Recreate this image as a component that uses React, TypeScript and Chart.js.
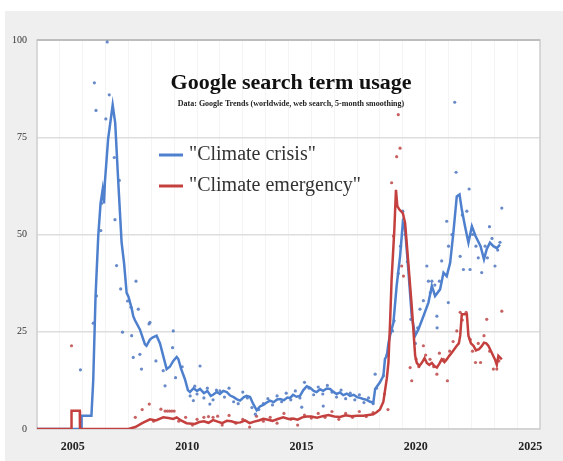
import React, { useEffect, useRef } from 'react';
import { Chart, registerables } from 'chart.js';

Chart.register(...registerables);

// ---- Data (decimal years, search interest 0-100) ----
const crisisLineYears = [2004.0, 2005.94, 2005.95, 2006.38, 2006.39, 2006.46, 2006.56, 2006.68, 2006.78, 2006.87, 2006.93, 2006.97, 2007.11, 2007.31, 2007.42, 2007.55, 2007.7, 2007.81, 2007.92, 2008.0, 2008.14, 2008.21, 2008.28, 2008.5, 2008.72, 2008.79, 2008.94, 2009.05, 2009.23, 2009.38, 2009.52, 2009.67, 2009.81, 2009.96, 2010.11, 2010.18, 2010.3, 2010.47, 2010.6, 2010.69, 2010.85, 2011.0, 2011.13, 2011.3, 2011.45, 2011.6, 2011.7, 2011.86, 2012.0, 2012.15, 2012.3, 2012.45, 2012.6, 2012.73, 2012.88, 2013.05, 2013.17, 2013.32, 2013.45, 2013.61, 2013.75, 2013.9, 2014.05, 2014.19, 2014.35, 2014.5, 2014.63, 2014.8, 2014.95, 2015.07, 2015.2, 2015.35, 2015.5, 2015.65, 2015.8, 2015.95, 2016.1, 2016.23, 2016.38, 2016.52, 2016.67, 2016.82, 2016.95, 2017.11, 2017.25, 2017.4, 2017.55, 2017.69, 2017.85, 2018.0, 2018.13, 2018.27, 2018.42, 2018.57, 2018.71, 2018.79, 2019.0, 2019.15, 2019.22, 2019.3, 2019.37, 2019.44, 2019.59, 2019.73, 2019.88, 2020.0, 2020.1, 2020.24, 2020.39, 2020.54, 2020.68, 2020.9, 2021.12, 2021.27, 2021.41, 2021.63, 2021.78, 2021.92, 2022.07, 2022.21, 2022.36, 2022.48, 2022.58, 2022.72, 2022.87, 2023.02, 2023.18, 2023.4, 2023.55, 2023.67, 2023.81, 2023.96, 2024.11, 2024.25];
const crisisLineValues = [0, 0, 3.4, 3.4, 3.4, 12.6, 34, 49.7, 58, 61.5, 58, 63.5, 74.5, 83.3, 78.7, 64, 48, 42.5, 35, 34, 31, 29, 28, 25.6, 21.8, 21.4, 23, 23.5, 24, 22, 18.8, 15.4, 16, 17.5, 18.5, 18, 15.5, 12.8, 10, 9.5, 10.5, 9.8, 10.3, 9.2, 9.8, 8.5, 8.8, 9.5, 9, 9.8, 9.5, 8.6, 8.2, 7.7, 7.3, 8.2, 8.5, 8.2, 6.5, 4.8, 5.8, 6.2, 6.8, 7.3, 6.9, 7.6, 7.7, 7.4, 8.1, 8, 8.8, 8.3, 8.5, 10, 11, 10.6, 9.8, 9.5, 10.2, 9.8, 10.4, 10.3, 9.6, 9, 9.4, 8.7, 9.1, 8.5, 8.8, 8.2, 8, 7.7, 7.5, 7, 6.8, 10.3, 12, 13.7, 18, 18.8, 22, 24, 27.4, 36.8, 44.4, 53, 51.3, 41, 29, 24, 25.6, 29, 32.5, 36.8, 34.2, 35.9, 40.2, 39.3, 42.7, 50.4, 59.8, 60.3, 56.4, 52.1, 47.9, 52.1, 49.6, 47, 43.6, 46.2, 47.9, 47, 46.5, 47.4];

const emergencyLineYears = [2004.0, 2005.5, 2005.51, 2005.87, 2005.88, 2008.0, 2008.3, 2008.6, 2008.94, 2009.2, 2009.52, 2009.75, 2009.96, 2010.11, 2010.3, 2010.54, 2010.9, 2011.1, 2011.3, 2011.5, 2011.7, 2011.9, 2012.1, 2012.3, 2012.5, 2012.7, 2012.9, 2013.1, 2013.3, 2013.5, 2013.7, 2013.9, 2014.1, 2014.3, 2014.5, 2014.77, 2015.0, 2015.2, 2015.4, 2015.6, 2015.8, 2016.0, 2016.25, 2016.5, 2016.75, 2017.0, 2017.25, 2017.5, 2017.75, 2018.0, 2018.27, 2018.5, 2018.71, 2018.85, 2019.0, 2019.15, 2019.3, 2019.37, 2019.44, 2019.51, 2019.63, 2019.7, 2019.76, 2019.85, 2020.0, 2020.1, 2020.24, 2020.39, 2020.54, 2020.61, 2020.72, 2020.83, 2020.95, 2021.05, 2021.16, 2021.27, 2021.38, 2021.49, 2021.6, 2021.7, 2021.82, 2021.92, 2022.03, 2022.14, 2022.25, 2022.36, 2022.45, 2022.51, 2022.58, 2022.7, 2022.8, 2022.87, 2022.98, 2023.09, 2023.2, 2023.33, 2023.45, 2023.55, 2023.65, 2023.74, 2023.89, 2024.03, 2024.11, 2024.18, 2024.33];
const emergencyLineValues = [0, 0, 4.7, 4.7, 0, 0, 0.5, 1.5, 2.5, 2.2, 3, 2.8, 2.6, 3, 2.2, 1.5, 1.3, 1.8, 2, 1.6, 2.3, 1.9, 1.5, 2.1, 2, 1.6, 1.7, 2.2, 1.5, 1.9, 2.2, 2.6, 2.4, 2.1, 2.5, 3, 2.6, 2.7, 2.4, 3, 3.2, 3.2, 2.9, 3.3, 3.6, 3.2, 3.1, 3.5, 3.3, 3.4, 3.4, 3.6, 3.8, 4.3, 5, 7, 13, 17, 27, 38.5, 51.3, 61.5, 57.3, 56.4, 55.5, 53, 42.7, 31.6, 18.8, 17, 16.2, 17, 18.2, 17, 16.5, 17, 16.2, 15.8, 16.8, 17.9, 17.2, 17.9, 18.8, 19.6, 20.5, 21.4, 22, 24, 29.5, 29.5, 29.5, 24, 22, 21.4, 20.2, 20.5, 21.3, 22.2, 22, 21.4, 19.6, 17.9, 16.5, 18.8, 17.9];

const crisisRawYears = [2005.9, 2006.46, 2006.51, 2006.58, 2006.6, 2006.79, 2006.82, 2007.01, 2007.07, 2007.16, 2007.38, 2007.41, 2007.48, 2007.6, 2007.66, 2007.74, 2007.96, 2008.11, 2008.14, 2008.21, 2008.33, 2008.43, 2008.5, 2008.57, 2008.9, 2008.94, 2009.2, 2009.52, 2009.6, 2009.93, 2009.96, 2010.06, 2010.35, 2010.7, 2010.84, 2010.9, 2011.0, 2011.13, 2011.3, 2011.45, 2011.56, 2011.7, 2011.85, 2012.0, 2012.2, 2012.4, 2012.6, 2012.8, 2013.0, 2013.2, 2013.4, 2013.55, 2013.7, 2013.9, 2014.1, 2014.3, 2014.5, 2014.7, 2014.9, 2015.1, 2015.3, 2015.5, 2015.58, 2015.7, 2015.9, 2016.1, 2016.3, 2016.5, 2016.52, 2016.7, 2016.9, 2017.1, 2017.3, 2017.5, 2017.7, 2017.9, 2018.1, 2018.3, 2018.5, 2018.7, 2018.79, 2018.85, 2019.15, 2019.3, 2019.55, 2019.62, 2019.8, 2019.9, 2020.0, 2020.1, 2020.2, 2020.35, 2020.55, 2020.65, 2020.75, 2020.9, 2021.05, 2021.12, 2021.2, 2021.27, 2021.4, 2021.49, 2021.5, 2021.6, 2021.7, 2021.92, 2021.99, 2022.0, 2022.15, 2022.27, 2022.33, 2022.51, 2022.6, 2022.65, 2022.8, 2022.9, 2022.94, 2023.05, 2023.2, 2023.3, 2023.45, 2023.6, 2023.7, 2023.79, 2023.9, 2024.03, 2024.15, 2024.25, 2024.33];
const crisisRawValues = [15.2, 27.2, 89, 81.9, 34.2, 51, 58, 79.7, 99.5, 85.9, 69.8, 53.8, 42, 63.9, 36, 24.9, 32.9, 31.3, 24, 18.4, 38, 30.8, 19.2, 15.4, 27, 27.4, 17.5, 15, 11.1, 20.9, 25.2, 13.2, 16, 8.5, 7.3, 11, 9, 16.2, 8, 10.5, 6.4, 7.5, 10, 9.8, 8.2, 10.5, 7, 6.5, 9.5, 8, 5.5, 3.8, 5, 6.5, 7.8, 6.2, 8.5, 7, 9.2, 7.5, 9.8, 8, 5.6, 12, 10.5, 8.8, 10.8, 9, 5.9, 11.2, 9.5, 8.2, 10, 7.8, 9.2, 7.5, 8.8, 6.8, 8, 6.5, 14.1, 10.5, 13.7, 19, 25.2, 27.8, 40, 47, 56, 50, 43, 28.2, 22, 26, 30.8, 33, 41.9, 38, 35, 38, 37, 29, 26, 38, 43.2, 53.4, 32.5, 47, 50, 84, 66, 44.4, 55, 41, 56, 61.7, 41, 50, 47, 44, 40.2, 47, 44, 52, 49, 41.9, 46, 48, 56.8];

const emergencyRawYears = [2005.51, 2008.3, 2008.6, 2008.91, 2009.1, 2009.42, 2009.6, 2009.7, 2009.8, 2009.9, 2010.0, 2010.2, 2010.5, 2010.8, 2011.0, 2011.3, 2011.5, 2011.7, 2011.9, 2012.1, 2012.4, 2012.7, 2013.0, 2013.3, 2013.6, 2013.9, 2014.2, 2014.5, 2014.8, 2015.1, 2015.4, 2015.7, 2016.0, 2016.3, 2016.6, 2016.9, 2017.2, 2017.5, 2017.8, 2018.1, 2018.4, 2018.7, 2019.2, 2019.35, 2019.51, 2019.59, 2019.73, 2019.8, 2019.88, 2019.95, 2020.03, 2020.1, 2020.32, 2020.39, 2020.58, 2020.7, 2020.9, 2021.0, 2021.19, 2021.35, 2021.49, 2021.6, 2021.78, 2021.95, 2022.05, 2022.2, 2022.36, 2022.51, 2022.6, 2022.77, 2022.95, 2023.05, 2023.18, 2023.3, 2023.4, 2023.55, 2023.67, 2023.8, 2023.96, 2024.11, 2024.2, 2024.33];
const emergencyRawValues = [21.4, 3, 5, 6.4, 2, 5.1, 4.6, 4.6, 4.6, 4.6, 4.6, 2, 3, 1, 2.5, 3, 3.2, 3, 3.3, 1, 3.5, 1.5, 2.5, 0.5, 3.3, 2, 3, 1.5, 4, 2.5, 1, 3.6, 2.8, 4, 3, 4.5, 2.5, 4, 3, 4.5, 3.2, 4.2, 9, 5, 63.3, 49.6, 70, 80.8, 72.2, 41.9, 39.3, 51, 15.8, 12.4, 18, 16, 21.4, 19, 17.9, 16, 14.1, 19.5, 17.9, 12.4, 20, 22.5, 25.2, 30, 28, 30, 23, 20, 17.1, 22, 17.1, 24, 28.2, 20, 15.4, 15.4, 17.5, 30.3];

const yTickValues = [0, 25, 50, 75, 100];
const xYears = Array.from({ length: 23 }, (_, i) => 2004 + i);

const BLUE = 'rgb(78,128,206)';
const RED = 'rgb(196,64,62)';
const BLUE_DOT = 'rgba(78,118,190,0.85)';
const RED_DOT = 'rgba(190,70,70,0.85)';
const SERIF = '"Liberation Serif", "DejaVu Serif", serif';

const pts = (xs: number[], ys: number[]) => xs.map((x, i) => ({ x, y: ys[i] }));

const backgroundPlugin = {
  id: 'bg',
  beforeDraw(chart: any) {
    const { ctx, chartArea, width, height } = chart;
    ctx.save();
    ctx.fillStyle = '#ffffff';
    ctx.fillRect(0, 0, width, height);
    ctx.fillStyle = '#efefef';
    ctx.fillRect(5, 11, width - 5, height - 11);
    ctx.fillStyle = '#ffffff';
    ctx.fillRect(chartArea.left, chartArea.top, chartArea.right - chartArea.left, chartArea.bottom - chartArea.top);
    ctx.restore();
  },
  beforeDatasetsDraw(chart: any) {
    const { ctx, chartArea } = chart;
    ctx.save();
    ctx.strokeStyle = '#cfcfcf';
    ctx.lineWidth = 1.5;
    ctx.strokeRect(chartArea.left, chartArea.top, chartArea.right - chartArea.left, chartArea.bottom - chartArea.top);
    ctx.strokeStyle = '#bdbdbd';
    ctx.lineWidth = 2;
    ctx.beginPath();
    ctx.moveTo(chartArea.left, chartArea.top);
    ctx.lineTo(chartArea.right, chartArea.top);
    ctx.stroke();
    ctx.restore();
  },
};

const annotationPlugin = {
  id: 'annot',
  afterDatasetsDraw(chart: any) {
    const { ctx } = chart;
    ctx.save();
    ctx.fillStyle = '#111';
    ctx.textAlign = 'center';
    ctx.textBaseline = 'alphabetic';
    ctx.font = `bold 22px ${SERIF}`;
    ctx.fillText('Google search term usage', 291, 89);
    ctx.font = `bold 8px ${SERIF}`;
    ctx.fillStyle = '#222';
    ctx.fillText('Data: Google Trends (worldwide, web search, 5-month smoothing)', 291, 106);

    const items = [
      { label: '"Climate crisis"', color: BLUE, y: 155 },
      { label: '"Climate emergency"', color: RED, y: 186 },
    ];
    ctx.textAlign = 'left';
    ctx.textBaseline = 'middle';
    ctx.font = `20px ${SERIF}`;
    items.forEach((it) => {
      ctx.strokeStyle = it.color;
      ctx.lineWidth = 3;
      ctx.beginPath();
      ctx.moveTo(159, it.y);
      ctx.lineTo(183, it.y);
      ctx.stroke();
      ctx.fillStyle = '#333';
      ctx.fillText(it.label, 189, it.y);
    });
    ctx.restore();
  },
};

export default function App() {
  const canvasRef = useRef<HTMLCanvasElement | null>(null);

  useEffect(() => {
    if (!canvasRef.current) return;
    const chart = new Chart(canvasRef.current, {
      type: 'line',
      data: {
        datasets: [
          {
            label: '"Climate emergency"',
            data: pts(emergencyLineYears, emergencyLineValues),
            borderColor: RED,
            borderWidth: 2.5,
            pointRadius: 0,
            tension: 0,
            order: 0,
          },
          {
            label: '"Climate crisis"',
            data: pts(crisisLineYears, crisisLineValues),
            borderColor: BLUE,
            borderWidth: 2.5,
            pointRadius: 0,
            tension: 0,
            order: 1,
          },
          {
            label: 'crisis raw',
            data: pts(crisisRawYears, crisisRawValues),
            showLine: false,
            pointRadius: 1.6,
            pointBorderWidth: 0,
            pointBackgroundColor: BLUE_DOT,
            order: 2,
          },
          {
            label: 'emergency raw',
            data: pts(emergencyRawYears, emergencyRawValues),
            showLine: false,
            pointRadius: 1.6,
            pointBorderWidth: 0,
            pointBackgroundColor: RED_DOT,
            order: 3,
          },
        ],
      },
      options: {
        responsive: false,
        animation: false,
        devicePixelRatio: 1,
        layout: { padding: { left: 0, top: 40, right: 23, bottom: 0 } },
        plugins: {
          legend: { display: false },
          tooltip: { enabled: false },
          title: { display: false },
        },
        scales: {
          x: {
            type: 'linear',
            min: 2004,
            max: 2026,
            afterBuildTicks: (scale: any) => {
              scale.ticks = xYears.map((v) => ({ value: v }));
            },
            afterFit: (scale: any) => {
              scale.height = 32;
            },
            ticks: {
              autoSkip: false,
              maxRotation: 0,
              labelOffset: 13,
              padding: 11,
              color: '#222',
              font: { family: SERIF, size: 12, weight: 'bold' },
              callback: (v: any) => (Number(v) % 5 === 0 && Number(v) > 2004 ? String(v) : ''),
            },
            grid: { color: 'rgba(0,0,0,0.045)', lineWidth: 1, drawTicks: false },
            border: { display: false },
          },
          y: {
            min: 0,
            max: 100,
            afterBuildTicks: (scale: any) => {
              scale.ticks = yTickValues.map((v) => ({ value: v }));
            },
            afterFit: (scale: any) => {
              scale.width = 37;
            },
            ticks: {
              padding: 10,
              color: '#333',
              font: { family: SERIF, size: 10 },
              callback: (v: any) => String(v),
            },
            grid: { color: '#dedede', lineWidth: 1.5, drawTicks: false },
            border: { display: false },
          },
        },
      },
      plugins: [backgroundPlugin, annotationPlugin],
    } as any);
    return () => chart.destroy();
  }, []);

  return (
    <div style={{ position: 'fixed', left: 0, top: 0, width: 563, height: 461 }}>
      <canvas ref={canvasRef} width={563} height={461} style={{ width: 563, height: 461 }} />
    </div>
  );
}
